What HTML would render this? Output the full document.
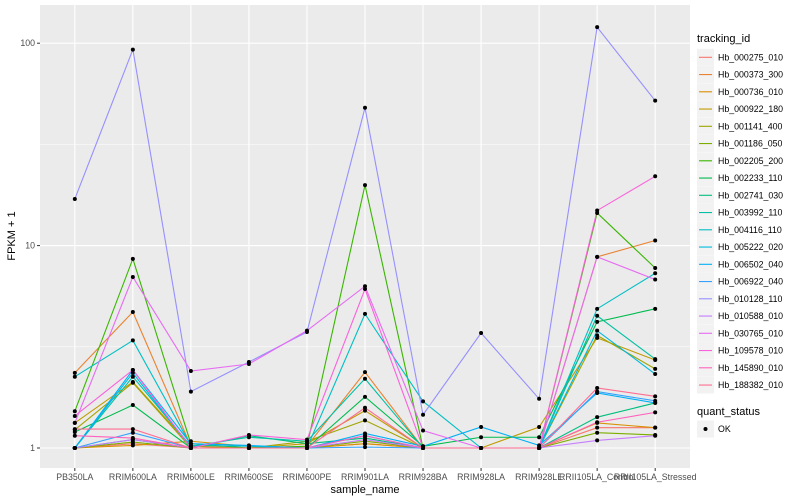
<!DOCTYPE html>
<html><head><meta charset="utf-8"><style>
body{margin:0;background:#fff;}
svg{display:block;font-family:"Liberation Sans",sans-serif;}
</style></head><body>
<svg id="chart" width="800" height="500" viewBox="0 0 800 500" xmlns="http://www.w3.org/2000/svg">
<rect x="40" y="5" width="650" height="463" fill="#EBEBEB"/>
<g id="grid"></g>
<g id="lines"></g>
<g id="points"></g>
<g id="axes"></g>
<text x="365" y="493" font-size="11" text-anchor="middle" fill="#000">sample_name</text>
<text transform="translate(15,236) rotate(-90)" font-size="11" text-anchor="middle" fill="#000">FPKM + 1</text>
<g id="legend"></g>
</svg>
<script>
const categories=["PB350LA","RRIM600LA","RRIM600LE","RRIM600SE","RRIM600PE","RRIM901LA","RRIM928BA","RRIM928LA","RRIM928LE","RRII105LA_Control","RRII105LA_Stressed"];
const seriesNames=["Hb_000275_010","Hb_000373_300","Hb_000736_010","Hb_000922_180","Hb_001141_400","Hb_001186_050","Hb_002205_200","Hb_002233_110","Hb_002741_030","Hb_003992_110","Hb_004116_110","Hb_005222_020","Hb_006502_040","Hb_006922_040","Hb_010128_110","Hb_010588_010","Hb_030765_010","Hb_109578_010","Hb_145890_010","Hb_188382_010"];
const seriesColors=["#F8766D","#EA8331","#D89000","#C09B00","#A3A500","#7CAE00","#39B600","#00BB4E","#00BF7D","#00C1A3","#00BFC4","#00BAE0","#00B0F6","#35A2FF","#9590FF","#C77CFF","#E76BF3","#FA62DB","#FF62BC","#FF6C91"];
const s0=[1.0,1.05,1.0,1.0,1.0,1.05,1.0,1.0,1.0,1.26,1.26];
const s1=[2.35,4.7,1.02,1.0,1.02,2.37,1.0,1.0,1.0,8.8,10.6];
const s2=[1.0,1.03,1.08,1.02,1.0,1.05,1.0,1.0,1.0,1.33,1.26];
const s3=[1.33,2.12,1.02,1.0,1.05,1.53,1.0,1.0,1.27,3.5,2.72];
const s4=[1.23,2.1,1.0,1.0,1.08,1.37,1.0,1.0,1.0,3.6,2.46];
const s5=[1.0,1.07,1.0,1.0,1.0,1.08,1.0,1.0,1.0,1.19,1.16];
const s6=[1.52,8.6,1.05,1.0,1.02,19.9,1.0,1.0,1.0,14.5,7.75];
const s7=[1.2,1.63,1.0,1.0,1.0,1.79,1.02,1.13,1.13,4.2,4.87];
const s8=[1.0,1.1,1.0,1.15,1.05,1.12,1.0,1.0,1.0,1.42,1.67];
const s9=[1.0,2.25,1.02,1.13,1.08,2.2,1.0,1.0,1.0,4.5,2.75];
const s10=[2.25,3.4,1.03,1.02,1.0,4.6,1.7,1.0,1.0,4.87,7.3];
const s11=[1.0,2.35,1.0,1.0,1.0,1.15,1.0,1.0,1.0,3.8,2.32];
const s12=[1.0,2.43,1.05,1.03,1.0,1.18,1.02,1.27,1.03,1.87,1.67];
const s13=[1.0,1.19,1.0,1.0,1.0,1.01,1.0,1.0,1.0,1.9,1.71];
const s14=[17,93,1.9,2.66,3.74,48,1.46,3.7,1.75,120,52];
const s15=[1.0,1.1,1.0,1.0,1.0,1.1,1.0,1.0,1.0,1.09,1.15];
const s16=[1.33,7.0,2.4,2.6,3.8,6.3,1.22,1.0,1.0,8.8,6.8];
const s17=[1.44,2.43,1.0,1.16,1.1,6.1,1.0,1.0,1.0,14.9,22];
const s18=[1.15,1.12,1.0,1.0,1.0,1.15,1.0,1.0,1.0,1.34,1.5];
const s19=[1.24,1.24,1.0,1.0,1.0,1.58,1.0,1.0,1.0,1.98,1.8];
const seriesValues=[s0,s1,s2,s3,s4,s5,s6,s7,s8,s9,s10,s11,s12,s13,s14,s15,s16,s17,s18,s19];
const yTicks=[1,10,100];
const yTickLabels=["1","10","100"];

const NS="http://www.w3.org/2000/svg";
const PL=40,PR=690,PT=5,PB=468;
const step=(PR-PL)/(categories.length-1+1.2);
function xScale(i){return PL+step*(0.6+i);}
function yScale(v){return 448-202.4*Math.log10(v);}
function mk(tag,attrs,parent){const e=document.createElementNS(NS,tag);for(const k in attrs)e.setAttribute(k,attrs[k]);parent.appendChild(e);return e;}
const grid=document.getElementById('grid'),lines=document.getElementById('lines'),pts=document.getElementById('points'),axes=document.getElementById('axes'),legend=document.getElementById('legend');

for(let i=0;i<yTicks.length-1;i++){
  const y=(yScale(yTicks[i])+yScale(yTicks[i+1]))/2;
  const g=mk('line',{x1:PL,x2:PR,y1:y,y2:y,stroke:'#fff','stroke-width':0.5},grid);
  
  
}
yTicks.forEach((t,i)=>{
  const y=yScale(t);
  const g=mk('line',{x1:PL,x2:PR,y1:y,y2:y,stroke:'#fff','stroke-width':1.1},grid);
  
  
  const tk=mk('line',{x1:PL-3,x2:PL,y1:y,y2:y,stroke:'#333','stroke-width':1},axes);
  
  
  const tx=mk('text',{x:PL-5,y:y+3,'font-size':8.8,'text-anchor':'end',fill:'#4D4D4D'},axes);
  tx.textContent=yTickLabels[i];
  
  
});
categories.forEach((c,i)=>{
  const x=xScale(i);
  const g=mk('line',{x1:x,x2:x,y1:PT,y2:PB,stroke:'#fff','stroke-width':1.1},grid);
  
  
  const tk=mk('line',{x1:x,x2:x,y1:PB,y2:PB+3,stroke:'#333','stroke-width':1},axes);
  
  
  const tx=mk('text',{x:x,y:PB+12,'font-size':8.8,'text-anchor':'middle',fill:'#4D4D4D'},axes);
  tx.textContent=c;
  
  
});
seriesValues.forEach((vals,s)=>{
  const d=vals.map((v,i)=>(i?'L':'M')+xScale(i).toFixed(2)+','+yScale(v).toFixed(2)).join(' ');
  const p=mk('path',{d:d,fill:'none',stroke:seriesColors[s],'stroke-width':1.1},lines);
  
  
  vals.forEach((v,i)=>{
    const c=mk('circle',{cx:xScale(i),cy:yScale(v),r:2,fill:'#000'},pts);
    
    
  });
});
const lt=mk('text',{x:697,y:42,'font-size':11,fill:'#000'},legend);
lt.textContent='tracking_id';


seriesNames.forEach((n,i)=>{
  const cy=57.3+i*17.25;
  const g=mk('g',{},legend);
  
  
  mk('rect',{x:697,y:cy-8.5,width:17,height:17,fill:'#F2F2F2'},g);
  mk('line',{x1:699,x2:712,y1:cy,y2:cy,stroke:seriesColors[i],'stroke-width':1.1},g);
  const t=mk('text',{x:718,y:cy+3,'font-size':8.8,fill:'#000'},g);
  t.textContent=n;
});
const qt=mk('text',{x:697,y:415,'font-size':11,fill:'#000'},legend);
qt.textContent='quant_status';


const qg=mk('g',{},legend);


mk('rect',{x:697,y:420.5,width:17,height:17,fill:'#F2F2F2'},qg);
mk('circle',{cx:705.5,cy:429,r:2,fill:'#000'},qg);
const qx=mk('text',{x:718,y:432,'font-size':8.8,fill:'#000'},qg);
qx.textContent='OK';
</script>
</body></html>
